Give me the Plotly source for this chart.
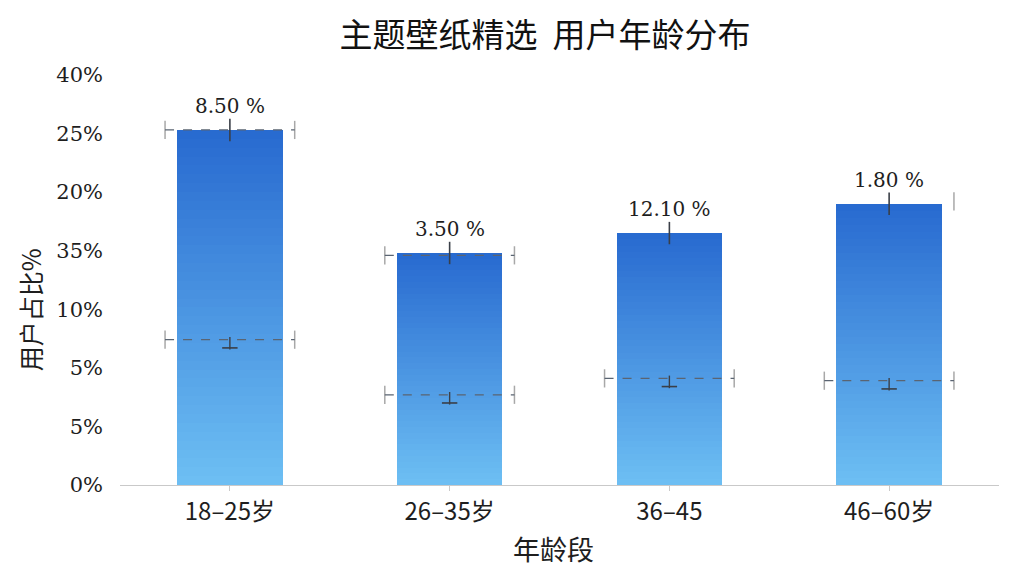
import plotly.graph_objects as go

# 数据
age_groups = ["18–25岁", "26–35岁", "36–45", "46–60岁"]
share = [30.3, 19.8, 21.5, 24.0]
bar_labels = ["8.50 %", "3.50 %", "12.10 %", "1.80 %"]
upper_ref = [30.3, 19.6, None, None]
lower_ref = [12.4, 7.7, 9.1, 8.9]
y_tickvals = [0, 5, 10, 15, 20, 25, 30, 35]
y_ticktext = ["0%", "5%", "5%", "10%", "35%", "20%", "25%", "40%"]

x_pos = list(range(len(age_groups)))
BAR_W = 0.48
HALF_REF = 0.295

# 渐变色: 底部浅蓝 -> 顶部深蓝
light = (110, 192, 244)
dark = (40, 106, 208)
N = 40

fig = go.Figure()
for k in range(N):
    t = (k + 0.5) / N
    c = tuple(int(light[j] + (dark[j] - light[j]) * t) for j in range(3))
    fig.add_trace(go.Bar(
        x=x_pos,
        y=[v / N for v in share],
        base=[v * k / N for v in share],
        width=BAR_W,
        marker=dict(color="rgb(%d,%d,%d)" % c, line=dict(width=0)),
        hoverinfo="skip",
        showlegend=False,
    ))

# 参考虚线
ref_pts_x, ref_pts_y = [], []
for i in x_pos:
    for lvl in (upper_ref[i], lower_ref[i]):
        if lvl is None:
            continue
        fig.add_shape(type="line", xref="x", yref="y",
                      x0=i - HALF_REF, x1=i + HALF_REF, y0=lvl, y1=lvl,
                      line=dict(color="#5a6472", width=1.3, dash="dash"))
        ref_pts_x += [i - HALF_REF, i + HALF_REF]
        ref_pts_y += [lvl, lvl]

# 最后一组右上角的端帽
ref_pts_x.append(x_pos[-1] + HALF_REF)
ref_pts_y.append(share[-1] + 0.2)

fig.add_trace(go.Scatter(
    x=ref_pts_x, y=ref_pts_y, mode="markers",
    marker=dict(symbol="line-ns", size=13, line=dict(color="#a8a8a8", width=1.5)),
    hoverinfo="skip", showlegend=False,
))

# 顶部短竖线
fig.add_trace(go.Scatter(
    x=x_pos, y=share, mode="markers",
    marker=dict(symbol="line-ns", size=16, line=dict(color="#3a3f48", width=1.6)),
    hoverinfo="skip", showlegend=False,
))

# 下方 ⊥ 标记
fig.add_trace(go.Scatter(
    x=x_pos, y=[v - 0.3 for v in lower_ref], mode="markers",
    marker=dict(symbol="line-ns", size=9, line=dict(color="#3a3f48", width=1.4)),
    hoverinfo="skip", showlegend=False,
))
fig.add_trace(go.Scatter(
    x=x_pos, y=[v - 0.7 for v in lower_ref], mode="markers",
    marker=dict(symbol="line-ew", size=11, line=dict(color="#3a3f48", width=1.6)),
    hoverinfo="skip", showlegend=False,
))

for i in x_pos:
    fig.add_annotation(x=i, y=share[i], text=bar_labels[i], showarrow=False,
                       yanchor="bottom", yshift=10,
                       font=dict(family="DejaVu Serif", size=20, color="#1e1e1e"))

fig.add_annotation(xref="paper", yref="paper", x=-0.102, y=0.414,
                   text="用户占比%", textangle=-90, showarrow=False,
                   xanchor="center", yanchor="middle",
                   font=dict(family="Noto Sans CJK SC", size=25, color="#1e1e1e"))
fig.add_annotation(xref="paper", yref="paper", x=0.493, y=-0.149,
                   text="年龄段", showarrow=False,
                   xanchor="center", yanchor="middle",
                   font=dict(family="Noto Sans CJK SC", size=27, color="#1e1e1e"))

fig.update_layout(
    width=1024, height=576,
    barmode="overlay",
    bargap=0,
    plot_bgcolor="white", paper_bgcolor="white",
    margin=dict(l=112, r=33, t=54, b=99),
    title=dict(text="主题壁纸精选  用户年龄分布", x=537 / 1024, xanchor="center",
               y=1 - 27 / 576, yanchor="middle",
               font=dict(family="Noto Sans CJK SC", size=33, color="#111111")),
    xaxis=dict(range=[-0.5, 3.5], tickvals=x_pos, ticktext=age_groups,
               showgrid=False, zeroline=False,
               showline=True, linecolor="#c9c9c9", linewidth=1,
               ticks="outside", ticklen=5, tickcolor="#c9c9c9",
               tickfont=dict(family="Noto Sans CJK SC", size=24, color="#1e1e1e")),
    yaxis=dict(range=[0, 36.1], tickvals=y_tickvals, ticktext=y_ticktext,
               showgrid=False, zeroline=False, showline=False,
               ticklabelstandoff=16,
               tickfont=dict(family="DejaVu Serif", size=21, color="#1e1e1e")),
)

fig.write_html("out.html")
